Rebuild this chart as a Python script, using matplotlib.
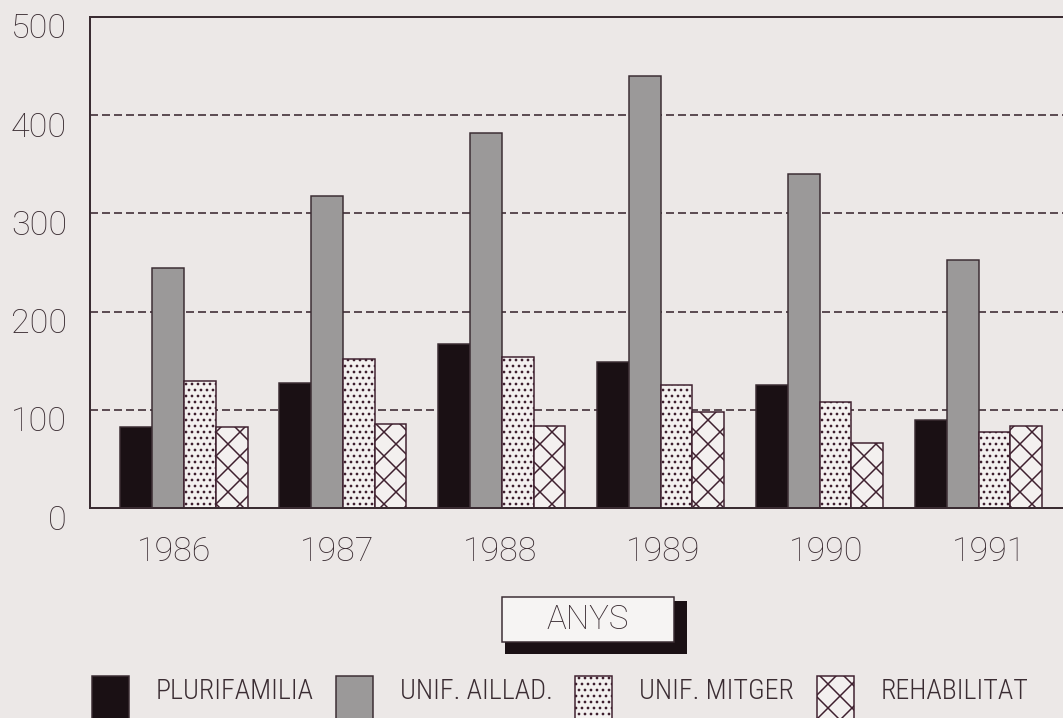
import numpy as np
import matplotlib
matplotlib.use('Agg')
import matplotlib.pyplot as plt
import matplotlib.patches as mpatches
from matplotlib.legend_handler import HandlerPatch
from matplotlib import font_manager as fm
from matplotlib.transforms import ScaledTranslation

# ---------------- data ----------------
years = ['1986', '1987', '1988', '1989', '1990', '1991']
series_names = ['PLURIFAMILIA', 'UNIF. AILLAD.', 'UNIF. MITGER', 'REHABILITAT']
plurifamilia = [82, 127, 167, 149, 125, 90]
unif_aillad = [244, 318, 382, 440, 340, 253]
unif_mitger = [129, 152, 154, 125, 108, 77]
rehabilitat = [82, 86, 84, 98, 66, 83]
y_ticks = [0, 100, 200, 300, 400, 500]
axis_label = 'ANYS'

# ---------------- style ----------------
W, H, DPI = 1063, 718, 72
BG = '#ece8e7'
INK = '#3a2c32'
HATCH_INK = '#3e1f2e'
LIGHT = '#f3f0ef'

names = {f.name for f in fm.fontManager.ttflist}
num_font = next(n for n in ['Roboto', 'Lato', 'DejaVu Sans'] if n in names)
leg_font = next(n for n in ['Roboto Condensed', 'Liberation Sans Narrow', 'Roboto', 'DejaVu Sans'] if n in names)

plt.rcParams['hatch.linewidth'] = 1.5
plt.rcParams['font.family'] = [num_font, 'DejaVu Sans']


def fx(px):
    return px / W


def fy(py):
    return 1 - py / H


fig = plt.figure(figsize=(W / DPI, H / DPI), dpi=DPI, facecolor=BG)

ax_left, ax_right, ax_top, ax_bottom = 90, 1063, 17, 508
ax = fig.add_axes([fx(ax_left), fy(ax_bottom), (ax_right - ax_left) / W, (ax_bottom - ax_top) / H])
ax.set_facecolor(BG)

group_px = 158.9
center0_px = 184
x = np.arange(len(years))
ax.set_xlim(-(center0_px - ax_left) / group_px, (ax_right - center0_px) / group_px)
ax.set_ylim(0, 500)

bw = 0.2
series = [plurifamilia, unif_aillad, unif_mitger, rehabilitat]
faces = ['#1a1014', '#9b9999', LIGHT, LIGHT]
edges = [INK, INK, HATCH_INK, HATCH_INK]
hatches = [None, None, '..', 'x']
offsets = [-1.5, -0.5, 0.5, 1.5]
handles = []
for vals, fc, ec, ht, off, nm in zip(series, faces, edges, hatches, offsets, series_names):
    bars = ax.bar(x + off * bw, vals, width=bw, facecolor=fc, edgecolor=ec,
                  linewidth=1.5, hatch=ht, label=nm, zorder=2)
    handles.append(bars[0])

# grid & spines
ax.set_axisbelow(True)
ax.yaxis.grid(True, color='#5e4e55', linewidth=2, linestyle=(0, (4, 2)))
ax.xaxis.grid(False)
for side in ['left', 'top', 'bottom']:
    ax.spines[side].set_color(INK)
    ax.spines[side].set_linewidth(2)
ax.spines['right'].set_visible(False)

ax.set_yticks(y_ticks)
ax.set_yticklabels([str(v) for v in y_ticks])
# year labels are spaced slightly wider than the bar groups in the original
ax.set_xticks(x * 1.025 - 0.06)
ax.set_xticklabels(years)
ax.tick_params(axis='both', length=0, labelcolor=INK, labelsize=34)
ax.tick_params(axis='x', pad=28)
ax.tick_params(axis='y', pad=23)
for lbl in ax.get_yticklabels() + ax.get_xticklabels():
    lbl.set_fontweight('light')
for lbl in ax.get_yticklabels():
    lbl.set_transform(lbl.get_transform() + ScaledTranslation(0, -9 / DPI, fig.dpi_scale_trans))

# axis label box with shadow
fig.add_artist(mpatches.Rectangle((fx(505), fy(654)), (687 - 505) / W, (654 - 601) / H,
                                  transform=fig.transFigure, facecolor='#1a1014',
                                  edgecolor='none', zorder=3))
fig.add_artist(mpatches.Rectangle((fx(501.7), fy(641.7)), 172.6 / W, 45 / H,
                                  transform=fig.transFigure, facecolor='#f6f4f3',
                                  edgecolor=INK, linewidth=1.5, zorder=4))
fig.text(fx(588), fy(629), axis_label, ha='center', va='baseline', fontsize=33,
         color=INK, fontweight='light', zorder=5)


# legend
def tall_patch(legend, orig_handle, xdescent, ydescent, width, height, fontsize):
    return mpatches.Rectangle((-xdescent, -ydescent - 30), width, height + 30)


leg_fs = 28
leg = fig.legend(handles=handles, labels=series_names, loc='upper left',
                 bbox_to_anchor=(fx(91.7), fy(676)), ncol=4, frameon=False,
                 fontsize=leg_fs, borderpad=0, borderaxespad=0,
                 handlelength=37 / leg_fs, handleheight=1.12,
                 handletextpad=27 / leg_fs, columnspacing=0.8,
                 handler_map={mpatches.Rectangle: HandlerPatch(patch_func=tall_patch)},
                 prop={'family': [leg_font, 'DejaVu Sans'], 'size': leg_fs, 'weight': 'light'})
for t in leg.get_texts():
    t.set_color(INK)

fig.savefig('out.png', dpi=DPI, facecolor=BG)
